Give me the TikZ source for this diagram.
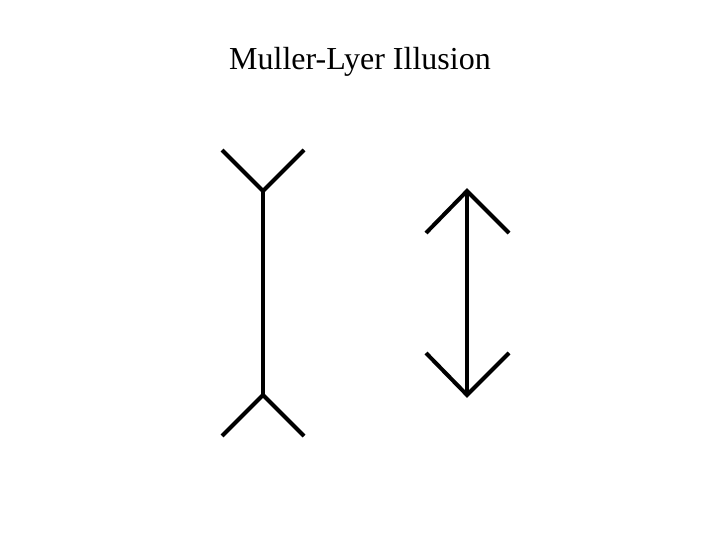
\documentclass[tikz,border=0pt]{standalone}
\usepackage{fontspec}
\setmainfont{Liberation Serif}
\begin{document}
\begin{tikzpicture}[x=1pt,y=-1pt,
  fin/.style={line width=4pt,line cap=butt,line join=miter},
  title/.style={font=\fontsize{32}{36}\selectfont,inner sep=0pt,anchor=base}]
\useasboundingbox (0,0) rectangle (720,540);
\node[title] (t) at (360,70) {Muller-Lyer Illusion};
% left figure (fins outward)
\coordinate (lt) at (263,191);
\coordinate (lb) at (263,395);
\draw[fin] (lt) -- (lb);
\draw[fin] (222,150) -- (lt) -- (304,150);
\draw[fin] (222,436) -- (lb) -- (304,436);
% right figure (arrowheads)
\coordinate (rt) at (467,191);
\coordinate (rb) at (467,395);
\draw[fin] (rt) -- (rb);
\draw[fin] (426,233) -- (rt) -- (509,233);
\draw[fin] (426,353) -- (rb) -- (509,353);
\end{tikzpicture}
\end{document}
